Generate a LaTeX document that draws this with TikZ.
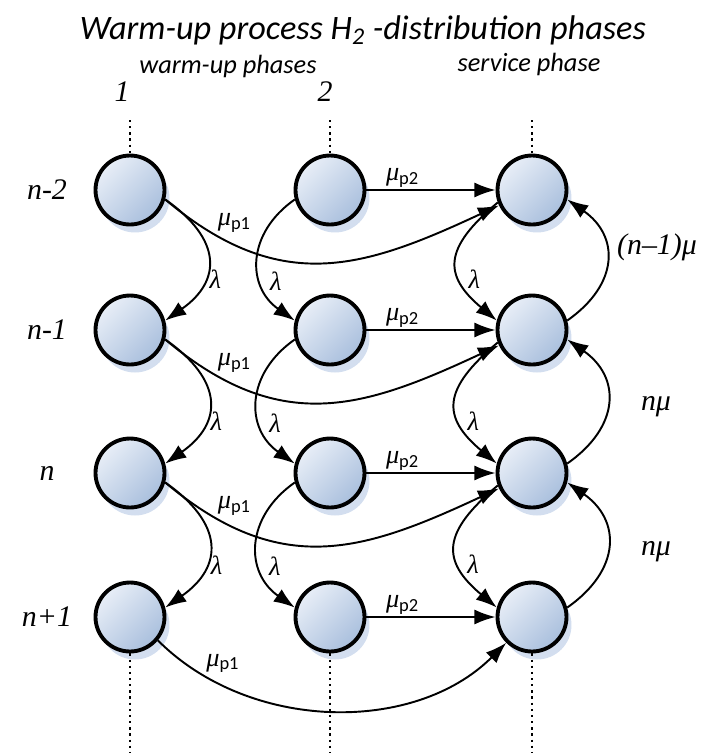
\documentclass[tikz,border=0pt]{standalone}
\usepackage{fontspec}
\setmainfont{Liberation Serif}
\newfontfamily\calibri{Carlito}
\usetikzlibrary{arrows.meta, positioning, shadows}

\definecolor{ballhi}{HTML}{E8EEF7}
\definecolor{balllo}{HTML}{A9BFDD}
\definecolor{ballshade}{HTML}{C8D6EB}

\newcommand{\mup}[1]{μ\textsubscript{\upshape\calibri p#1}}

\tikzset{
  phasenode/.style={circle, draw=black, line width=2.2pt, minimum size=1.38cm, inner sep=0pt,
    top color=ballhi, bottom color=balllo, shading angle=45,
    drop shadow={shadow xshift=0.1cm, shadow yshift=-0.16cm, fill=ballshade, opacity=0.8}},
  trans/.style={line width=1.1pt, -{Latex[length=12pt, width=8.5pt]}},
  rate/.style={font=\fontsize{15}{17}\selectfont\itshape, inner sep=1pt},
  rowlabel/.style={font=\fontsize{17}{19}\selectfont\itshape},
  heading/.style={font=\calibri\itshape\fontsize{15}{17}\selectfont},
  more/.style={line width=1.3pt, dash pattern=on 1.3pt off 2.2pt},
}

\begin{document}
\begin{tikzpicture}[x=0.02cm, y=0.02cm]
  \useasboundingbox (0,0) rectangle (718,-755);
  % headings
  \node[heading, font=\calibri\itshape\fontsize{19.5}{22}\selectfont] (title) at (363,-30) {Warm-up process H\textsubscript{2} -distribution phases};
  \node[heading] (warm) at (228,-66) {warm-up phases};
  \node[heading] (serv) at (529,-64) {service phase};
  \node[rowlabel] (ph1) at (122,-92) {1};
  \node[rowlabel] (ph2) at (325,-92) {2};
  % states: phase 1 (a), phase 2 (b), service (s)
  \foreach \i/\y/\n in {1/-190/n-2, 2/-330/n-1, 3/-473/n, 4/-617/n+1}{
    \node[rowlabel] (row\i) at (47,\y) {\n};
    \node[phasenode] (a\i) at (130,\y) {};
    \node[phasenode] (b\i) at (330,\y) {};
    \node[phasenode] (s\i) at (532,\y) {};
  }
  % more states above and below
  \foreach \c/\x in {a/130, b/330, s/532}{
    \coordinate (\c0) at (\x,-120);
    \coordinate (\c5) at (\x,-752);
    \draw[more] (\c0) -- (\c1);
    \draw[more] (\c4) -- (\c5);
  }
  % phase 2 -> service
  \foreach \i in {1,...,4}{
    \draw[trans] (b\i) -- node[rate, pos=0.28, above] (q\i) {\mup{2}} (s\i);
  }
  % phase 1 -> service
  \foreach \i in {1,2,3}{
    \draw[trans] (a\i.-15) to[out=-40, in=205, looseness=1.15] node[rate, pos=0.15, above right] (p\i) {\mup{1}} (s\i.205);
  }
  \draw[trans] (a4.-40) to[out=-45, in=225, looseness=0.95] node[rate, pos=0.15, above right] (p4) {\mup{1}} (s4.225);
  % arrivals and departures
  \foreach \i/\j in {1/2, 2/3, 3/4}{
    \draw[trans] (a\i.-15) to[out=-35, in=35, looseness=1.47] node[rate, pos=0.66, right=2pt] (la\i) {λ} (a\j.15);
    \draw[trans] (b\i.195) to[out=215, in=145, looseness=1.25] node[rate, pos=0.66, right=3pt] (lb\i) {λ} (b\j.165);
    \draw[trans] (s\i.200) to[out=220, in=140, looseness=1.53] node[rate, pos=0.66, right=3pt] (ls\i) {λ} (s\j.165);
    \draw[trans] (s\j.15) to[out=35, in=-35, looseness=1.35] (s\i.-15);
  }
  \node[rowlabel] (m1) at (657,-247) {(n–1)μ};
  \node[rowlabel] (m2) at (656,-407) {nμ};
  \node[rowlabel] (m3) at (656,-552) {nμ};
\end{tikzpicture}
\end{document}
